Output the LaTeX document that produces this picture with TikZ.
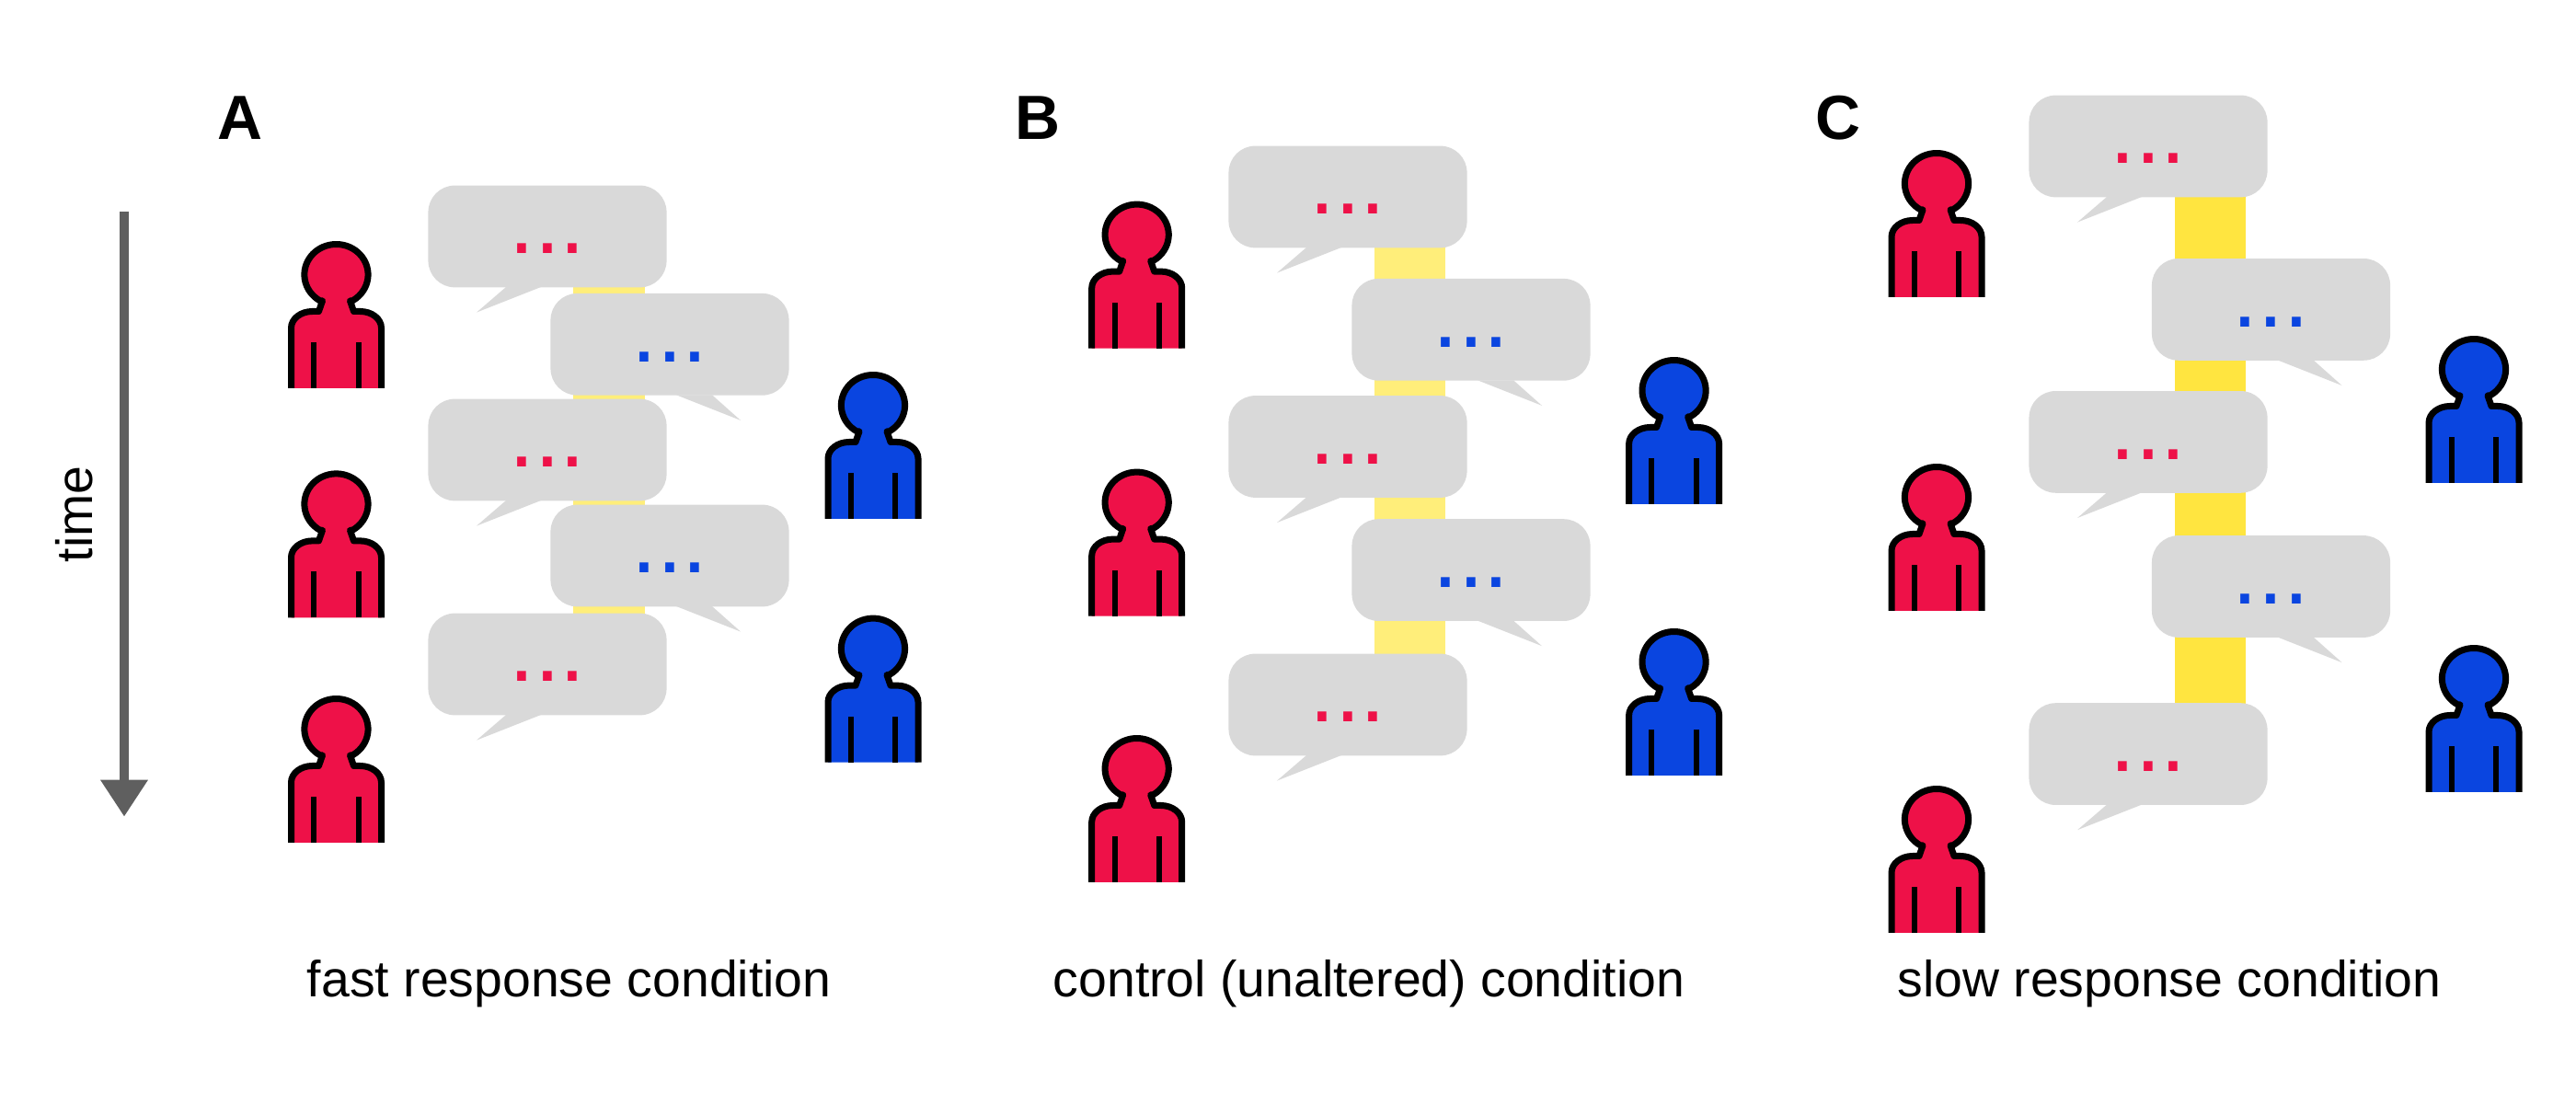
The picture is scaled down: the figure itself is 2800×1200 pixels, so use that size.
\documentclass[tikz,border=0pt]{standalone}
\usepackage{fontspec}
\setmainfont{Liberation Sans}
\usetikzlibrary{arrows.meta}
\definecolor{speakerred}{HTML}{EE1148}
\definecolor{speakerblue}{HTML}{0A45E0}
\definecolor{bubblegray}{HTML}{D9D9D9}
\definecolor{arrowgray}{HTML}{5F5F5F}
\definecolor{paleyellow}{HTML}{FFEE7A}
\definecolor{fullyellow}{HTML}{FFE540}
\tikzset{
  x=0.01cm,y=0.01cm,
  bubble/.style={fill=bubblegray,minimum width=2.59cm,minimum height=1.107cm,
    rounded corners=0.29cm,inner sep=0pt,outer sep=0pt},
  ellipsis/.style={inner sep=0pt,anchor=base,font=\fontsize{28.45}{30}\selectfont},
  caption/.style={inner sep=0pt,anchor=base,font=\fontsize{15.75}{20}\selectfont},
  panel/.style={inner sep=0pt,anchor=base,font=\fontsize{19.3}{20}\selectfont\bfseries},
  pics/person/.style={code={
    \filldraw[fill=#1,line width=0.07cm,line join=round]
      (-49,0) -- (-49,65.5) arc[start angle=180,end angle=90,x radius=23,y radius=18]
      -- (-19,83.5) -- (-15,95) -- (-18,95.3)
      arc[start angle=238.7,end angle=-58.7,x radius=34.6,y radius=33]
      -- (15,95) -- (19,83.5) -- (26,83.5)
      arc[start angle=90,end angle=0,x radius=23,y radius=18] -- (49,0);
    \draw[line width=0.06cm] (-24.2,0) -- (-24.2,50);
    \draw[line width=0.06cm] (24.2,0) -- (24.2,50);
  }},
  pics/saidred/.style={code={
    \node[bubble] (-box) {};
    \fill[bubblegray] (-45,-55) -- (-77,-82.6) -- (-7,-55) -- cycle;
    \node[ellipsis,text=speakerred] (-dots) at (0,-19) {...};
  }},
  pics/saidblue/.style={code={
    \node[bubble] (-box) {};
    \fill[bubblegray] (46,-55) -- (77,-82.6) -- (7,-55) -- cycle;
    \node[ellipsis,text=speakerblue] (-dots) at (0,-19) {...};
  }},
}
\begin{document}
\begin{tikzpicture}
  \useasboundingbox (0,0) rectangle (2800,1200);
  % time axis
  \coordinate (timestart) at (135,970);
  \coordinate (timeend) at (135,312.3);
  \draw[-{Triangle[length=0.4cm,width=0.49cm]},color=arrowgray,line width=0.107cm] (timestart) -- (timeend);
  \node[caption,rotate=90] (timelabel) at (101,641) {time};
  % yellow bars
  \fill[paleyellow] (623,943) rectangle (700.5,478);
  \fill[paleyellow] (1494,986) rectangle (1571,434);
  \fill[fullyellow] (2364,1041) rectangle (2441,380);
  % people
  \foreach \x/\y in {365.5/778,365.5/528.6,365.5/284,1235.7/821.4,1235.7/530.4,1235.7/241,2105/877,2105/536,2105/186}
    \pic at (\x,\y) {person=speakerred};
  \foreach \x/\y in {949/636,949/371.4,1819.6/652,1819.6/357,2689/675,2689/339}
    \pic at (\x,\y) {person=speakerblue};
  % speech bubbles
  \foreach \n/\x/\y in {a1/595/943,a3/595/711,a5/595/478,b1/1465/986,b3/1465/714.5,b5/1465/434,c1/2335/1041,c3/2335/719.6,c5/2335/380.4}
    \pic (\n) at (\x,\y) {saidred};
  \foreach \n/\x/\y in {a2/728/825.7,a4/728/596,b2/1599/841.7,b4/1599/580.4,c2/2468.5/863.6,c4/2468.5/562.5}
    \pic (\n) at (\x,\y) {saidblue};
  % labels
  \node[panel] (panelA) at (261,1048.3) {A};
  \node[panel] (panelB) at (1128,1048.3) {B};
  \node[panel] (panelC) at (1998,1048.3) {C};
  \node[caption] (capA) at (618.8,116) {fast response condition};
  \node[caption] (capB) at (1488,116) {control (unaltered) condition};
  \node[caption] (capC) at (2358,116) {slow response condition};
\end{tikzpicture}
\end{document}
